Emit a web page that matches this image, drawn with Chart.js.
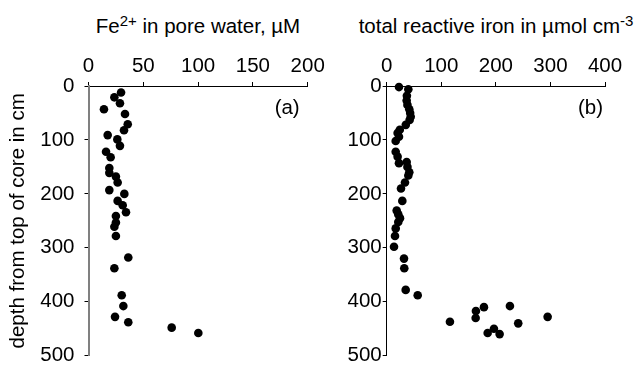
<!DOCTYPE html>
<html>
<head>
<meta charset="utf-8">
<script src="https://cdn.jsdelivr.net/npm/chart.js@4.4.1/dist/chart.umd.min.js"></script>
<style>
  html, body { margin: 0; padding: 0; background: #fff; overflow: hidden; width: 638px; height: 366px; }
  canvas { position: absolute; top: 0; }
  .title {
    position: absolute; top: 16px; width: 340px;
    font-family: "Liberation Sans", Arial, sans-serif; font-size: 20.5px; line-height: 20px;
    color: #000; text-align: center; white-space: nowrap;
  }
  .title .sup { font-size: 15px; position: relative; top: -7px; }
</style>
</head>
<body>
<div class="title" style="left:28px">Fe<span class="sup">2+</span> in pore water, µM</div>
<div class="title" style="left:326px">total reactive iron in µmol cm<span class="sup">-3</span></div>
<canvas id="chartA" width="330" height="380" style="left:0px"></canvas>
<canvas id="chartB" width="308" height="380" style="left:330px"></canvas>
<script>
// panel (a): Fe2+ in pore water (µM) vs depth (cm)
const fe2Conc = [29.7, 23.6, 28.7, 14.1, 33.3, 35.8, 32.4, 17.5, 26.3, 28.7,
  16, 20.2, 19, 19, 25, 26.6, 19, 32.7, 26.6, 31.2,
  34.2, 25, 25, 23.6, 25, 36.3, 23.6, 30.3, 31.8, 24.2,
  36.3, 75.9, 100.2];
const fe2Depth = [12, 21, 32, 43, 52, 71, 82, 91, 99, 111,
  122, 132, 152, 161, 168, 179, 193, 200, 213, 221,
  234, 241, 253, 261, 278, 318, 338, 388, 408, 428,
  438, 448, 458];

// panel (b): total reactive iron (µmol cm-3) vs depth (cm)
const ironConc = [22.5, 39.6, 37, 36.6, 38, 41.4, 43, 44, 42, 35,
  24, 20, 22.5, 16.5, 16.5, 20, 22.5, 36.6, 38, 41.4,
  39.6, 33.5, 26.2, 28.6, 18.3, 21.2, 24.4, 21.2, 16.5, 15.2,
  13.4, 31.7, 32.2, 34.8, 56.8, 115.9, 163.5, 163, 178.2, 185,
  196.5, 206.9, 225.8, 241, 294.9];
const ironDepth = [2, 6, 18, 27, 35, 43, 50, 57, 63, 72,
  81, 87, 94, 102, 122, 131, 143, 141, 150, 160,
  166, 179, 190, 213, 231, 238, 245, 252, 264, 278,
  298, 320, 338, 378, 388, 437, 417, 430, 410, 458,
  450, 460, 408, 440, 428];

const depthTitle = "depth from top of core in cm";

Chart.defaults.font.family = '"Liberation Sans", Arial, sans-serif';
Chart.defaults.font.size = 20.5;
Chart.defaults.color = "#000";

// draws the (a) / (b) tag in the upper right corner of the plot
const panelLabel = {
  id: "panelLabel",
  afterDraw(chart, args, opts) {
    const { ctx, chartArea } = chart;
    ctx.save();
    ctx.font = '20.5px "Liberation Sans", Arial, sans-serif';
    ctx.fillStyle = "#000";
    ctx.textAlign = "right";
    ctx.textBaseline = "middle";
    ctx.fillText(opts.text, chartArea.right - opts.dx, chartArea.top + 22);
    ctx.restore();
  }
};

function makePanel(id, conc, depth, cfg) {
  return new Chart(document.getElementById(id), {
    type: "scatter",
    data: {
      datasets: [{
        data: depth.map((d, i) => ({ x: conc[i], y: d })),
        backgroundColor: "#000",
        borderColor: "#000",
        borderWidth: 0,
        pointRadius: 4.3,
        pointHoverRadius: 4.3,
        clip: false
      }]
    },
    options: {
      responsive: false,
      animation: false,
      events: [],
      layout: { padding: cfg.padding },
      plugins: {
        legend: { display: false },
        tooltip: { enabled: false },
        panelLabel: { text: cfg.label, dx: cfg.labelDx }
      },
      scales: {
        x: {
          type: "linear",
          position: "top",
          min: 0,
          max: cfg.xMax,
          ticks: { stepSize: cfg.xStep, padding: 3, maxRotation: 0 },
          grid: { drawOnChartArea: false, tickLength: 4, color: "#000" },
          border: { color: "#000", width: 1 },
          afterFit: (s) => { s.height = 86; }
        },
        y: {
          type: "linear",
          reverse: true,
          min: 0,
          max: 500,
          ticks: { stepSize: 100, padding: cfg.yPad },
          grid: { drawOnChartArea: false, tickLength: 4, color: "#000" },
          border: { color: cfg.yBorder, width: cfg.yBorderWidth },
          title: cfg.yTitle
            ? { display: true, text: cfg.yTitle, padding: { top: 6, bottom: 0 } }
            : { display: false },
          afterFit: (s) => { s.width = cfg.yWidth; }
        }
      }
    },
    plugins: [panelLabel]
  });
}

makePanel("chartA", fe2Conc, fe2Depth, {
  padding: { left: 0, top: 0, right: 22.3, bottom: 24.3 },
  xMax: 200, xStep: 50,
  yPad: 10, yWidth: 88.5,
  yBorder: "#808080", yBorderWidth: 2,
  yTitle: depthTitle,
  label: "(a)", labelDx: 8
});

makePanel("chartB", ironConc, ironDepth, {
  padding: { left: 0, top: 0, right: 33, bottom: 24.3 },
  xMax: 400, xStep: 100,
  yPad: 1, yWidth: 56.7,
  yBorder: "#000", yBorderWidth: 1,
  yTitle: null,
  label: "(b)", labelDx: 2
});
</script>
</body>
</html>
